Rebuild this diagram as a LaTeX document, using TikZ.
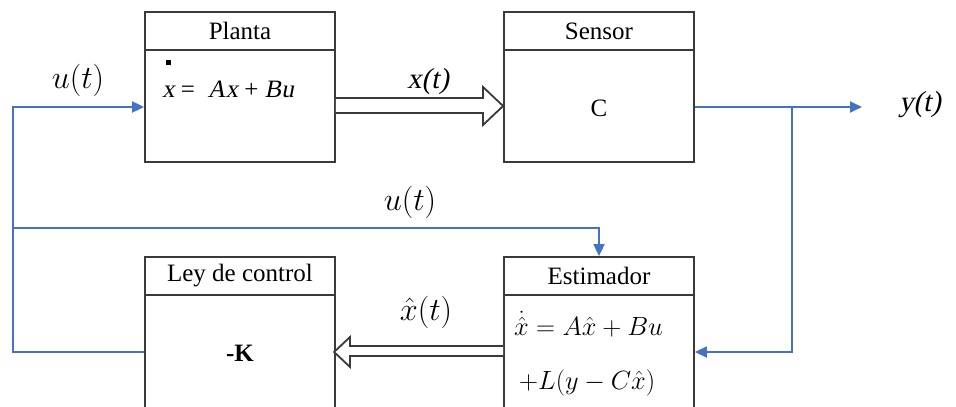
\documentclass[tikz,border=0pt]{standalone}
\usepackage[no-math]{fontspec}
\setmainfont{Liberation Serif}
\newfontfamily\serifit{Liberation Serif}[FakeSlant=0.2]
\usetikzlibrary{arrows.meta,calc}
\definecolor{bl}{HTML}{4472C4}
\definecolor{fr}{HTML}{3A3A3A}
\newcommand{\bigmath}[1]{\scalebox{1.3}{$#1$}}
\newcommand{\eqmath}[1]{\scalebox{1.06}{$#1$}}
\tikzset{
 box/.style={draw=fr, line width=1.8pt, inner sep=0pt, minimum width=190pt},
 hdr/.style={draw=fr, line width=2.6pt},
 title/.style={font=\fontsize{25}{28}\selectfont, inner sep=0pt},
 itlabel/.style={font=\fontsize{29}{34}\selectfont\serifit, inner sep=0pt},
 mlabel/.style={font=\fontsize{24.88}{30}\selectfont, inner sep=0pt},
 meq/.style={font=\fontsize{24.88}{28}\selectfont, inner sep=0pt, anchor=west},
 sig/.style={draw=bl, line width=1.8pt},
 sigarrow/.style={sig, -{Triangle[length=12pt,width=11pt]}},
 hollow/.style={draw=fr, line width=1.8pt, fill=white, line join=miter},
}
\begin{document}
\begin{tikzpicture}[x=1pt,y=-1pt]
\useasboundingbox (0,0) rectangle (956,407);
\clip (0,0) rectangle (956,407);
% boxes
\node[box, minimum height=150pt] (pl) at (240,87) {};
\node[box, minimum height=150pt] (se) at (599,87) {};
\node[box, minimum height=170pt] (lc) at (240,342) {};
\node[box, minimum height=170pt] (es) at (599,342) {};
\draw[hdr] (pl.west |- 0,50) -- (pl.east |- 0,50);
\draw[hdr] (se.west |- 0,50) -- (se.east |- 0,50);
\draw[hdr] (lc.west |- 0,295) -- (lc.east |- 0,295);
\draw[hdr] (es.west |- 0,295) -- (es.east |- 0,295);
% titles
\node[title] (plt) at (240,31) {Planta};
\node[title] (set) at (599,31) {Sensor};
\node[title] (lct) at (240,276) {Ley de control};
\node[title] (est) at (599,276) {Estimador};
% contents
\node[title, anchor=west] (pleq) at (162,89) {{\serifit x} = \ {\serifit Ax} + {\serifit Bu}};
\fill[black] (166,60) rectangle (171,65);
\node[title] (sec) at (599,108) {C};
\node[title, font=\fontsize{25}{28}\selectfont\bfseries] (lck) at (240,353) {-K};
\node[meq] (eseq1) at (514,324) {\eqmath{\dot{\hat{x}} = A\hat{x} + Bu}};
\node[meq] (eseq2) at (519,383) {\eqmath{+L(y - C\hat{x})}};
% hollow arrows
\draw[hollow] ($(pl.east)+(0,11)$) -- (483,98) -- (483,87) -- ($(se.west)+(0,19)$) -- (483,125) -- (483,113) -- ($(pl.east)+(0,26)$);
\draw[hollow] ($(es.west)+(0,4)$) -- (350,346) -- (350,337) -- ($(lc.west)+(190,10)$) -- (350,367) -- (350,356) -- ($(es.west)+(0,14)$);
% signal lines
\coordinate (lcout) at (lc.west |- 0,352);
\coordinate (fbc) at (13,352);
\coordinate (fbt) at (13,107);
\coordinate (plin) at (pl.west |- 0,107);
\coordinate (fbm) at (13,228);
\coordinate (seout) at (se.east |- 0,107);
\coordinate (yend) at (862,107);
\coordinate (br) at (792,107);
\coordinate (esin) at (es.east |- 0,352);
\draw[sigarrow] (lcout) -- (fbc) -- (fbt) -- (plin);
\draw[sigarrow] (fbm) -| (es.north);
\draw[sigarrow] (seout) -- (yend);
\draw[sigarrow] (br) |- (esin);
% labels
\node[mlabel] (u1) at (78,80) {\bigmath{u(t)}};
\node[mlabel] (u2) at (410,202) {\bigmath{u(t)}};
\node[mlabel] (xh) at (426,312) {\bigmath{\hat{x}(t)}};
\node[itlabel] (xt) at (428,82) {x(t)};
\node[itlabel] (yt) at (920,105) {y(t)};
\end{tikzpicture}
\end{document}
